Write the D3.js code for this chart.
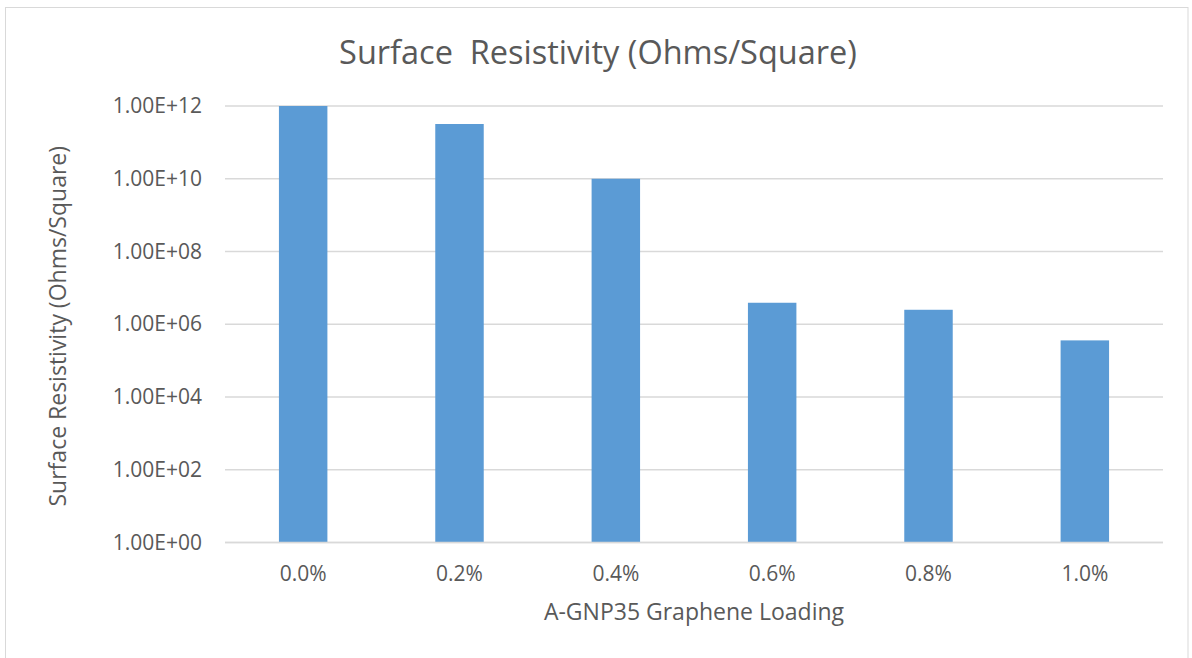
<!DOCTYPE html>
<html>
<head>
<meta charset="utf-8">
<script src="https://cdn.jsdelivr.net/npm/d3@7"></script>
<style>
  html, body { margin: 0; padding: 0; background: #fff; }
  svg { display: block; font-family: "Open Sans", sans-serif; }
</style>
</head>
<body>
<svg id="chart" width="1192" height="658"></svg>
<script>
const categories = ["0.0%", "0.2%", "0.4%", "0.6%", "0.8%", "1.0%"];
const values = [1.0e12, 3.2e11, 1.0e10, 3.9e6, 2.5e6, 3.6e5];
const tickValues = [1e0, 1e2, 1e4, 1e6, 1e8, 1e10, 1e12];
const tickLabels = ["1.00E+00", "1.00E+02", "1.00E+04", "1.00E+06", "1.00E+08", "1.00E+10", "1.00E+12"];
const titleText = "Surface  Resistivity (Ohms/Square)";
const yTitle = "Surface Resistivity (Ohms/Square)";
const xTitle = "A-GNP35 Graphene Loading";

const svg = d3.select("#chart");
const plot = { left: 225, right: 1163, top: 106, bottom: 542.5 };

svg.append("rect")
  .attr("x", 5.5).attr("y", 7.5)
  .attr("width", 1182.5).attr("height", 660)
  .attr("fill", "#fff").attr("stroke", "#d9d9d9").attr("stroke-width", 1);

const x = d3.scaleBand().domain(categories).range([plot.left, plot.right]).paddingInner(0.69).paddingOuter(0.345);
const y = d3.scaleLog().domain([1, 1e12]).range([plot.bottom, plot.top]);

// gridlines
svg.append("g").selectAll("line").data(tickValues).join("line")
  .attr("x1", plot.left).attr("x2", plot.right)
  .attr("y1", d => y(d)).attr("y2", d => y(d))
  .attr("stroke", "#d9d9d9").attr("stroke-width", 1.3);

// bars
svg.append("g").selectAll("rect").data(values).join("rect")
  .attr("x", (d, i) => x(categories[i]))
  .attr("width", x.bandwidth())
  .attr("y", d => y(d))
  .attr("height", d => y(1) - y(d))
  .attr("fill", "#5b9bd5");

// baseline
svg.append("line")
  .attr("x1", plot.left).attr("x2", plot.right)
  .attr("y1", y(1)).attr("y2", y(1))
  .attr("stroke", "#d9d9d9").attr("stroke-width", 1.5);

// y axis
const yAxis = d3.axisLeft(y).tickValues(tickValues)
  .tickFormat((d, i) => tickLabels[i]).tickSize(0).tickPadding(23);
const yg = svg.append("g").attr("transform", `translate(${plot.left},0)`).call(yAxis);
yg.select(".domain").remove();
yg.selectAll("text").attr("fill", "#595959").style("font-size", "21px").style("font-family", "Open Sans");

// x axis
const xAxis = d3.axisBottom(x).tickSize(0).tickPadding(24);
const xg = svg.append("g").attr("transform", `translate(0,${plot.bottom})`).call(xAxis);
xg.select(".domain").remove();
xg.selectAll("text").attr("fill", "#595959").style("font-size", "21px").style("font-family", "Open Sans");

// title
svg.append("text").attr("x", 598).attr("y", 64)
  .attr("text-anchor", "middle").attr("fill", "#595959")
  .attr("xml:space", "preserve")
  .style("font-size", "32.5px")
  .text(titleText);

// x title
svg.append("text").attr("x", (plot.left + plot.right) / 2).attr("y", 620)
  .attr("text-anchor", "middle").attr("fill", "#595959")
  .style("font-size", "23px").text(xTitle);

// y title
svg.append("text")
  .attr("transform", `translate(66,${(plot.top + plot.bottom) / 2 + 2}) rotate(-90)`)
  .attr("text-anchor", "middle").attr("fill", "#595959")
  .style("font-size", "23px").text(yTitle);
</script>
</body>
</html>
